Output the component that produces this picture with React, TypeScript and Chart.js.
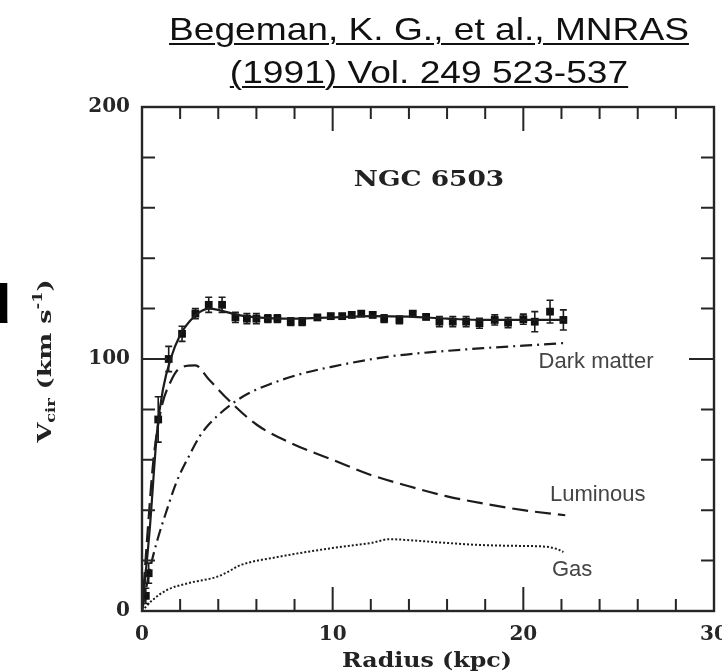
import React, { useEffect, useRef } from "react";
import { Chart, registerables } from "chart.js";

Chart.register(...registerables);

// ---------- data ----------
const titleLine1 = "Begeman, K. G., et al., MNRAS";
const titleLine2 = "(1991) Vol. 249 523-537";
const galaxyName = "NGC 6503";

const xTickLabels = [0, 10, 20, 30];
const yTickLabels = [0, 100, 200];

// observed rotation curve (kpc, km/s, error km/s)
const obsRadius = [0.2, 0.35, 0.85, 1.4, 2.1, 2.8, 3.5, 4.2, 4.9, 5.5, 6.0, 6.6, 7.1, 7.8, 8.4, 9.2, 9.9, 10.5, 11.0, 11.5, 12.1, 12.7, 13.5, 14.2, 14.9, 15.6, 16.3, 17.0, 17.7, 18.5, 19.2, 20.0, 20.6, 21.4, 22.1];
const obsVelocity = [6, 15, 76, 100, 110, 118, 121.5, 121.5, 116.5, 116, 116, 116, 116, 114.8, 114.8, 116.5, 117, 117, 117.5, 118, 117.5, 116, 115.5, 118, 116.7, 114.8, 114.8, 114.8, 114.2, 115.5, 114.4, 115.8, 114.8, 118.8, 115.5];
const obsError = [3, 4, 9, 5, 3, 2, 3, 3, 2, 2, 2, 1.5, 1.5, 1.5, 1.5, 1, 1, 1, 1, 1, 1, 1.5, 1.5, 1, 1, 2, 2, 2, 2, 2, 2, 2, 4, 4.5, 4];

// total fit (solid)
const totalRadius = [0, 0.4, 0.8, 1.1, 1.5, 2.0, 2.5, 3.0, 3.5, 4.0, 5.0, 6.0, 8.0, 10.0, 12.0, 14.0, 16.0, 18.0, 20.0, 22.2];
const totalVelocity = [0, 32, 72, 88, 100, 109.5, 115, 118.5, 120, 119.5, 117.5, 116.5, 116, 116.5, 117, 116.8, 116, 115.5, 115.5, 115.5];

// luminous disk (long dashes)
const lumRadius = [0, 0.3, 0.6, 1.0, 1.5, 2.0, 2.8, 3.5, 4.5, 6.0, 8.0, 10.0, 12.0, 14.0, 16.0, 18.0, 20.0, 22.2];
const lumVelocity = [0, 32, 60, 80, 91, 96.5, 97.5, 92, 84, 74, 66, 60, 54, 49.5, 45.5, 42.5, 40, 38];

// dark matter halo (dash-dot)
const darkRadius = [0, 0.4, 0.8, 1.3, 1.8, 2.5, 3.0, 3.5, 4.6, 5.5, 6.7, 8.3, 10.0, 11.8, 13.5, 15.3, 17.9, 20.0, 22.1];
const darkVelocity = [0, 16, 28, 40, 51, 62, 69, 74, 81.5, 86, 90, 94, 97, 99.6, 101.5, 102.8, 104.3, 105.3, 106.3];

// gas (dotted)
const gasRadius = [0, 0.5, 1.3, 2.4, 3.9, 4.5, 5.1, 7.1, 10.0, 12.0, 13.0, 14.2, 16.0, 17.7, 20.0, 21.2, 21.8, 22.1];
const gasVelocity = [0, 4, 8.3, 11, 13.5, 15.5, 18, 21.4, 25, 27, 28.5, 28, 27, 26.2, 25.8, 25.5, 24.5, 23.4];

// curve labels: [text, radius of left edge, velocity of centre]
const curveLabels: [string, number, number][] = [
  ["Dark matter", 20.8, 98.8],
  ["Luminous", 21.4, 46],
  ["Gas", 21.5, 16.3],
];
const galaxyLabelPos = [15.05, 171];

const pts = (xs: number[], ys: number[]) => xs.map((x, i) => ({ x, y: ys[i] }));

const INK = "#1c1c1c";
const SERIF = "'DejaVu Serif', serif";
const SANS = "'Liberation Sans', Arial, sans-serif";

const decorPlugin = {
  id: "decor",
  beforeDatasetsDraw(chart: any) {
    const { ctx, scales } = chart;
    const x = scales.x, y = scales.y;
    ctx.save();
    ctx.strokeStyle = INK;
    ctx.lineWidth = 1.6;
    obsRadius.forEach((r, i) => {
      const e = obsError[i];
      const px = x.getPixelForValue(r);
      const top = y.getPixelForValue(obsVelocity[i] + e);
      const bot = y.getPixelForValue(Math.max(0, obsVelocity[i] - e));
      ctx.beginPath();
      ctx.moveTo(px, top); ctx.lineTo(px, bot);
      ctx.moveTo(px - 3.5, top); ctx.lineTo(px + 3.5, top);
      ctx.moveTo(px - 3.5, bot); ctx.lineTo(px + 3.5, bot);
      ctx.stroke();
    });
    ctx.restore();
  },
  afterDraw(chart: any) {
    const { ctx, chartArea: a, scales } = chart;
    const x = scales.x, y = scales.y;
    ctx.save();
    // frame
    ctx.strokeStyle = "#262626";
    ctx.lineWidth = 2.4;
    ctx.strokeRect(a.left, a.top, a.right - a.left, a.bottom - a.top);
    // inward ticks
    ctx.lineWidth = 2;
    ctx.beginPath();
    for (let v = 2; v < 30; v += 2) {
      const px = x.getPixelForValue(v);
      const len = v % 10 === 0 ? 24 : 12;
      ctx.moveTo(px, a.bottom); ctx.lineTo(px, a.bottom - len);
      ctx.moveTo(px, a.top); ctx.lineTo(px, a.top + len);
    }
    for (let v = 20; v < 200; v += 20) {
      const py = y.getPixelForValue(v);
      const len = v % 100 === 0 ? 25 : 13;
      ctx.moveTo(a.left, py); ctx.lineTo(a.left + len, py);
      ctx.moveTo(a.right, py); ctx.lineTo(a.right - len, py);
    }
    ctx.stroke();

    // galaxy name
    ctx.fillStyle = "#222";
    ctx.font = `bold 22px ${SERIF}`;
    ctx.textBaseline = "middle";
    ctx.save();
    ctx.translate(x.getPixelForValue(galaxyLabelPos[0]), y.getPixelForValue(galaxyLabelPos[1]));
    ctx.scale(1.2, 1);
    ctx.textAlign = "center";
    ctx.fillText(galaxyName, 0, 0);
    ctx.restore();

    // curve labels
    ctx.fillStyle = "#444";
    ctx.font = `22px ${SANS}`;
    ctx.textAlign = "left";
    ctx.textBaseline = "middle";
    curveLabels.forEach(([t, r, v]) => {
      ctx.fillText(t, x.getPixelForValue(r), y.getPixelForValue(v));
    });

    // x axis title
    ctx.fillStyle = "#222";
    ctx.font = `bold 20px ${SERIF}`;
    ctx.textBaseline = "alphabetic";
    const xt = "Radius (kpc)";
    const xw = ctx.measureText(xt).width;
    ctx.save();
    ctx.translate((a.left + a.right) / 2 - 1, 667);
    ctx.scale(170 / xw, 1);
    ctx.textAlign = "center";
    ctx.fillText(xt, 0, 0);
    ctx.restore();

    // y axis title with sub/superscripts
    const parts = [
      { t: "V", s: 19, dy: 0 },
      { t: "cir", s: 12, dy: 4 },
      { t: " (km s", s: 19, dy: 0 },
      { t: "-1", s: 12, dy: -9 },
      { t: ")", s: 19, dy: 0 },
    ];
    let W = 0;
    const widths = parts.map((p) => {
      ctx.font = `bold ${p.s}px ${SERIF}`;
      const w = ctx.measureText(p.t).width;
      W += w;
      return w;
    });
    ctx.save();
    ctx.translate(51, (a.top + a.bottom) / 2 + 2);
    ctx.rotate(-Math.PI / 2);
    ctx.scale(163 / W, 1);
    ctx.textAlign = "left";
    let cx = -W / 2;
    parts.forEach((p, i) => {
      ctx.font = `bold ${p.s}px ${SERIF}`;
      ctx.fillText(p.t, cx, p.dy);
      cx += widths[i];
    });
    ctx.restore();

    ctx.restore();
  },
};

export default function App() {
  const ref = useRef<HTMLCanvasElement | null>(null);

  useEffect(() => {
    if (!ref.current) return;
    const lineDs = (label: string, xs: number[], ys: number[], dash: number[], width = 2) => ({
      type: "line" as const,
      label,
      data: pts(xs, ys),
      borderColor: INK,
      borderWidth: width,
      borderDash: dash,
      pointRadius: 0,
      fill: false,
      cubicInterpolationMode: "monotone" as const,
    });
    const chart = new Chart(ref.current, {
      type: "scatter",
      data: {
        datasets: [
          lineDs("Total", totalRadius, totalVelocity, [], 2.2),
          lineDs("Luminous", lumRadius, lumVelocity, [16, 7], 2.2),
          lineDs("Dark matter", darkRadius, darkVelocity, [12, 5, 2, 5], 2.2),
          lineDs("Gas", gasRadius, gasVelocity, [2, 2], 2),
          {
            type: "scatter" as const,
            label: "Observed",
            data: pts(obsRadius, obsVelocity),
            pointStyle: "rect",
            pointRadius: 5.5,
            backgroundColor: "#111",
            borderColor: "#111",
            borderWidth: 0,
            showLine: false,
          },
        ] as any,
      },
      options: {
        responsive: false,
        animation: false,
        events: [],
        layout: { padding: { left: 82, top: 107, right: 8, bottom: 31 }, autoPadding: false } as any,
        plugins: { legend: { display: false }, tooltip: { enabled: false }, title: { display: false } },
        scales: {
          x: {
            type: "linear",
            min: 0,
            max: 30,
            afterFit: (s: any) => { s.height = 30; s.paddingLeft = 0; s.paddingRight = 0; },
            grid: { display: false, drawTicks: false },
            border: { display: false },
            ticks: {
              stepSize: 10,
              padding: 12,
              autoSkip: false,
              maxRotation: 0,
              color: "#262626",
              font: { family: SERIF, size: 20, weight: "bold" },
              callback: (v: any) => (xTickLabels.includes(Number(v)) ? String(v) : ""),
            },
          },
          y: {
            type: "linear",
            min: 0,
            max: 200,
            afterFit: (s: any) => { s.width = 60; s.paddingTop = 0; s.paddingBottom = 0; },
            grid: { display: false, drawTicks: false },
            border: { display: false },
            ticks: {
              stepSize: 100,
              padding: 12,
              autoSkip: false,
              color: "#262626",
              font: { family: SERIF, size: 20, weight: "bold" },
              callback: (v: any) => (yTickLabels.includes(Number(v)) ? String(v) : ""),
            },
          },
        },
      } as any,
      plugins: [decorPlugin],
    });
    return () => chart.destroy();
  }, []);

  const titleLine: React.CSSProperties = {
    position: "absolute",
    left: 129,
    width: 600,
    height: 43,
    lineHeight: "43px",
    textAlign: "center",
    fontFamily: SANS,
    fontSize: 32,
    color: "#111",
    textDecoration: "underline",
    textDecorationThickness: "2px",
    textUnderlineOffset: "3px",
    transform: "scaleX(1.16)",
    transformOrigin: "center",
    whiteSpace: "nowrap",
  };

  return (
    <div style={{ position: "absolute", left: 0, top: 0, width: 722, height: 672, overflow: "hidden", background: "#fff" }}>
      <canvas ref={ref} width={722} height={672} style={{ position: "absolute", left: 0, top: 0 }} />
      <div style={{ ...titleLine, top: 8 }}>{titleLine1}</div>
      <div style={{ ...titleLine, top: 51 }}>{titleLine2}</div>
      <div
        style={{
          position: "absolute",
          left: -23,
          top: 276,
          fontFamily: SANS,
          fontWeight: "bold",
          fontSize: 56,
          lineHeight: 1,
          color: "#000",
        }}
      >
        d
      </div>
    </div>
  );
}
